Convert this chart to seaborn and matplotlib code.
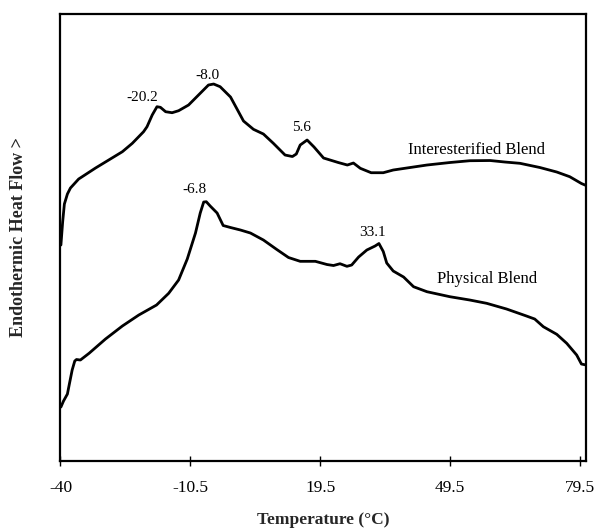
import matplotlib
matplotlib.use("Agg")
import matplotlib.pyplot as plt
import seaborn as sns
import pandas as pd

# Temperature (°C) and heat-flow (arbitrary units)
inter_temp = [-40.4, -40.0, -39.6, -38.9, -38.2, -36.3, -32.4, -26.2, -23.9, -21.3,
              -20.5, -19.3, -18.2, -17.4, -16.2, -14.7, -13.2, -10.9, -8.6, -6.3,
              -5.1, -3.6, -1.2, 1.8, 4.1, 6.4, 8.7, 11.4, 13.1, 14.0,
              14.9, 16.5, 18.1, 20.3, 23.7, 25.8, 27.2, 28.8, 31.3, 34.1,
              36.4, 40.3, 44.2, 49.5, 54.1, 58.8, 62.2, 65.7, 70.3, 74.2,
              77.2, 79.9, 81.0]
inter_flow = [216, 239, 257, 267, 273, 282, 293, 309.3, 317.7, 329.3,
              334.3, 346, 354.3, 353.7, 349.3, 348.3, 350.3, 356, 366, 376,
              377, 374.3, 364, 340, 331.7, 327, 317.7, 306, 304.5, 307,
              316, 321, 314, 303, 298.5, 296, 298, 292.7, 288.3, 288.3,
              291, 293.5, 296, 298.5, 300.3, 300.5, 299, 297.7, 293.5, 289,
              284.3, 277.5, 275.5]

phys_temp = [-40.4, -39.8, -38.9, -38.4, -37.8, -37.2, -36.8, -35.9, -33.9, -30.1,
             -26.2, -22.4, -18.3, -15.5, -13.2, -11.2, -9.3, -8.2, -7.4, -6.8,
             -5.9, -4.3, -2.9, -1.2, 1.1, 3.4, 6.4, 9.5, 12.2, 14.9,
             18.4, 21.1, 22.6, 24.1, 25.7, 26.8, 28.4, 30.3, 32.2, 33.1,
             34.1, 34.9, 36.4, 38.8, 41.1, 44.2, 49.5, 54.1, 58.0, 62.6,
             67.2, 69.1, 71.1, 74.2, 76.5, 78.8, 79.9, 81.0]
phys_flow = [54, 60, 67, 78, 91, 100, 101.5, 101, 107.7, 122,
             135, 146, 156, 167.7, 181, 202, 228, 248, 259, 259.3,
             255, 248, 235.5, 233.5, 231, 228, 221, 211.5, 203.5, 199.7,
             199.7, 196.5, 195.5, 197.3, 194.7, 196, 204, 211, 215, 217.5,
             209.5, 198, 190, 184, 174.3, 169.3, 164.3, 161, 157.7, 152,
             145, 142, 134.3, 126.7, 117.7, 106, 97, 96]

peak_labels = ["-20.2", "-8.0", "5.6", "-6.8", "33.1"]
peak_label_x = [-21.5, -6.5, 15.3, -9.5, 31.5]
peak_label_y = [363.5, 385.5, 333.5, 272, 228.5]

series_names = ["Interesterified Blend", "Physical Blend"]
series_label_x = [55.7, 58.1]
series_label_y = [311, 181.7]

tick_pos = [-40.5, -10.5, 19.5, 49.5, 79.5]
tick_labels = ["-40", "-10.5", "19.5", "49.5", "79.5"]

df = pd.concat([
    pd.DataFrame({"Temperature": inter_temp, "Flow": inter_flow, "Sample": series_names[0]}),
    pd.DataFrame({"Temperature": phys_temp, "Flow": phys_flow, "Sample": series_names[1]}),
], ignore_index=True)

sns.set_theme(style="white")
plt.rcParams["font.family"] = ["Liberation Serif", "DejaVu Serif"]

fig = plt.figure(figsize=(6.0, 5.29), dpi=100)
ax = fig.add_axes([0.1008, 0.1285, 0.8762, 0.845])

sns.lineplot(data=df, x="Temperature", y="Flow", units="Sample", estimator=None,
             sort=False, color="black", linewidth=2.0, ax=ax, legend=False)
for ln in ax.lines:
    ln.set_solid_joinstyle("round")
    ln.set_solid_capstyle("round")

for t, x, y in zip(peak_labels, peak_label_x, peak_label_y):
    ax.text(x, y, t, ha="center", va="center", fontsize=11, color="black")
for t, x, y in zip(series_names, series_label_x, series_label_y):
    ax.text(x, y, t, ha="center", va="center", fontsize=12, color="black")

ax.set_xlim(-40.5, 81.0)
ax.set_ylim(0, 447)
ax.set_xticks(tick_pos)
ax.set_xticklabels(tick_labels, fontsize=12.5)
ax.set_yticks([])
ax.tick_params(axis="x", direction="inout", length=7, width=1.0, color="black",
               bottom=True, pad=10, labelcolor="black")
for s in ax.spines.values():
    s.set_visible(True)
    s.set_color("black")
    s.set_linewidth(1.6)

ax.set_xlabel("Temperature (°C)", fontsize=12.5, fontweight="bold", labelpad=12)
ax.set_ylabel("Endothermic Heat Flow >", fontsize=13, fontweight="bold", labelpad=24)

fig.savefig("out.png", dpi=100)
